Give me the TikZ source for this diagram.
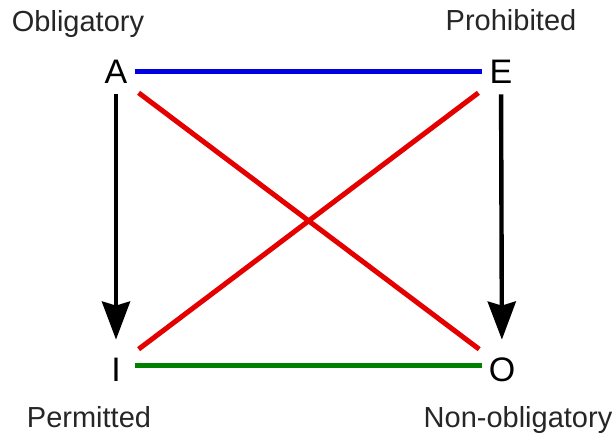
\documentclass[tikz,border=0pt]{standalone}
\usepackage{fontspec}
\setmainfont{Liberation Sans}
\usetikzlibrary{arrows.meta,positioning}

\begin{document}
\begin{tikzpicture}[x=0.5pt,y=-0.5pt,>={Stealth[length=19pt,width=14pt,inset=2pt]},
  corner/.style={font=\fontsize{17pt}{19pt}\selectfont,text height=12pt,text depth=0pt,inner sep=3pt,minimum width=19pt},
  tag/.style={font=\fontsize{14.5pt}{17pt}\selectfont,text=black!85,text height=10.5pt,text depth=3pt},
  link/.style={line width=2.5pt}]
\useasboundingbox (0,0) rectangle (616,437);
\node[corner] (a) at (116,72) {A};
\node[corner] (e) at (501,72) {E};
\node[corner] (i) at (116,370) {I};
\node[corner] (o) at (502,370) {O};
\node[tag] (obl) at (78,24) {Obligatory};
\node[tag] (pro) at (511,23) {Prohibited};
\node[tag] (per) at (89,420) {Permitted};
\node[tag] (non) at (518,420) {Non-obligatory};
\draw[link,blue!90!black] (a) -- (e);
\draw[link,green!50!black] ([yshift=2pt]i.east) -- ([yshift=2pt]o.west);
\draw[link,red!90!black,shorten <=2pt,shorten >=2pt] (a.south east) -- (o.north west);
\draw[link,red!90!black,shorten <=2pt,shorten >=2pt] (e.south west) -- (i.north east);
\draw[->,line width=2.2pt,shorten <=2pt,shorten >=6pt] (a) -- (i);
\draw[->,line width=2.2pt,shorten <=2pt,shorten >=6pt] (e) -- (o);
\end{tikzpicture}
\end{document}
